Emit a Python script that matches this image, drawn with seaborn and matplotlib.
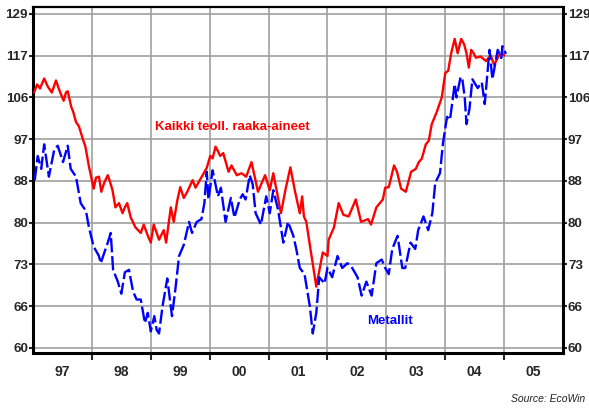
import numpy as np
import pandas as pd
import matplotlib
matplotlib.use("Agg")
import matplotlib.pyplot as plt
from matplotlib.ticker import FixedLocator, NullLocator, NullFormatter
import seaborn as sns

# Kaikki teoll. raaka-aineet (decimal year, index value)
red_years = [
    1997.02, 1997.07, 1997.12, 1997.19, 1997.25, 1997.32, 1997.39, 1997.45, 1997.52, 1997.56,
    1997.59, 1997.65, 1997.68, 1997.73, 1997.78, 1997.85, 1997.89, 1997.95, 1998.00, 1998.03,
    1998.07, 1998.12, 1998.16, 1998.21, 1998.27, 1998.31, 1998.35, 1998.40, 1998.46, 1998.52,
    1998.56, 1998.60, 1998.66, 1998.74, 1998.83, 1998.88, 1998.95, 1999.00, 1999.05, 1999.10,
    1999.14, 1999.22, 1999.26, 1999.34, 1999.39, 1999.45, 1999.50, 1999.56, 1999.62, 1999.71,
    1999.76, 1999.88, 1999.95, 2000.01, 2000.05, 2000.10, 2000.18, 2000.23, 2000.32, 2000.37,
    2000.46, 2000.54, 2000.62, 2000.71, 2000.82, 2000.94, 2001.02, 2001.08, 2001.21, 2001.29,
    2001.37, 2001.45, 2001.53, 2001.57, 2001.60, 2001.64, 2001.72, 2001.81, 2001.84, 2001.92,
    2002.00, 2002.02, 2002.11, 2002.19, 2002.27, 2002.36, 2002.48, 2002.57, 2002.69, 2002.74,
    2002.83, 2002.94, 2002.98, 2003.04, 2003.13, 2003.18, 2003.25, 2003.33, 2003.42, 2003.50,
    2003.55, 2003.60, 2003.67, 2003.72, 2003.77, 2003.86, 2003.94, 2004.00, 2004.05, 2004.10,
    2004.16, 2004.21, 2004.27, 2004.32, 2004.36, 2004.40, 2004.44, 2004.48, 2004.52, 2004.60,
    2004.69, 2004.77, 2004.83, 2004.91, 2004.98, 2005.00,
]
red_values = [
    107.5, 109.5, 108.5, 111.0, 109.0, 107.5, 110.5, 108.0, 105.5, 107.5,
    107.8, 104.0, 103.0, 100.5, 99.5, 96.5, 95.0, 90.8, 88.0, 86.3,
    88.5, 88.7, 85.7, 87.5, 89.0, 87.6, 86.0, 82.7, 83.5, 81.6,
    82.7, 83.5, 80.8, 79.0, 78.0, 79.5, 77.5, 76.3, 79.5, 78.0,
    76.8, 78.5, 76.3, 82.7, 80.0, 84.0, 86.6, 84.5, 85.7, 88.0,
    86.5, 89.0, 90.5, 93.0, 92.5, 95.0, 93.0, 93.6, 89.7, 91.0,
    89.0, 89.4, 88.7, 91.7, 85.7, 89.0, 86.0, 89.4, 81.6, 86.3,
    90.6, 85.7, 81.6, 84.8, 81.0, 80.0, 74.6, 69.0, 70.5, 74.6,
    74.0, 76.8, 79.0, 83.5, 81.3, 81.0, 84.2, 80.0, 80.5, 79.5,
    82.7, 84.2, 86.5, 86.6, 91.0, 89.7, 86.3, 85.7, 89.7, 90.3,
    91.7, 92.4, 95.5, 96.3, 100.0, 103.0, 106.3, 112.4, 113.0, 117.6,
    121.5, 117.6, 121.5, 120.0, 117.6, 113.8, 118.5, 117.6, 116.4, 116.7,
    115.5, 117.0, 114.5, 117.0, 117.4, 117.0,
]

# Metallit (decimal year, index value)
blue_years = [
    1997.03, 1997.08, 1997.14, 1997.19, 1997.27, 1997.36, 1997.42, 1997.51, 1997.59, 1997.64,
    1997.73, 1997.81, 1997.90, 1997.95, 1998.03, 1998.12, 1998.15, 1998.27, 1998.32, 1998.36,
    1998.44, 1998.50, 1998.56, 1998.63, 1998.70, 1998.76, 1998.83, 1998.90, 1998.95, 1999.00,
    1999.06, 1999.10, 1999.14, 1999.20, 1999.28, 1999.36, 1999.42, 1999.48, 1999.56, 1999.65,
    1999.70, 1999.78, 1999.86, 1999.91, 1999.95, 1999.98, 2000.05, 2000.14, 2000.19, 2000.27,
    2000.36, 2000.42, 2000.51, 2000.56, 2000.61, 2000.68, 2000.73, 2000.78, 2000.87, 2000.96,
    2001.02, 2001.08, 2001.16, 2001.25, 2001.33, 2001.42, 2001.47, 2001.53, 2001.61, 2001.70,
    2001.75, 2001.81, 2001.86, 2001.95, 2002.00, 2002.08, 2002.17, 2002.25, 2002.34, 2002.42,
    2002.51, 2002.58, 2002.66, 2002.75, 2002.83, 2002.92, 2002.98, 2003.04, 2003.10, 2003.19,
    2003.27, 2003.32, 2003.41, 2003.49, 2003.54, 2003.63, 2003.71, 2003.78, 2003.83, 2003.91,
    2003.96, 2004.03, 2004.08, 2004.13, 2004.16, 2004.19, 2004.26, 2004.29, 2004.33, 2004.36,
    2004.41, 2004.46, 2004.55, 2004.62, 2004.67, 2004.75, 2004.80, 2004.89, 2004.95, 2004.97,
    2005.03,
]
blue_values = [
    88.0, 93.0, 90.3, 95.5, 88.7, 94.3, 95.2, 91.7, 95.2, 90.3,
    88.7, 83.5, 82.0, 79.0, 75.6, 74.0, 72.8, 76.3, 78.0, 71.7,
    69.8, 67.9, 71.3, 71.7, 68.2, 67.0, 67.0, 63.5, 65.0, 62.3,
    64.5, 62.5, 62.0, 66.0, 70.3, 64.5, 68.8, 74.0, 75.9, 80.0,
    78.0, 80.0, 80.5, 83.5, 89.7, 84.2, 90.0, 84.8, 86.5, 80.0,
    84.5, 80.8, 84.2, 85.2, 84.2, 89.0, 87.2, 81.6, 79.5, 84.8,
    81.6, 86.0, 82.3, 76.3, 80.0, 77.5, 75.2, 72.0, 71.0, 66.0,
    62.0, 65.0, 70.5, 69.5, 72.0, 70.5, 74.0, 72.0, 72.8, 72.0,
    70.5, 67.6, 69.8, 67.6, 72.8, 73.4, 72.0, 71.0, 75.2, 77.5,
    72.0, 72.0, 76.3, 75.2, 78.5, 81.0, 78.5, 81.6, 87.5, 89.4,
    95.7, 101.7, 101.0, 106.3, 109.6, 106.3, 111.4, 110.8, 106.3, 100.0,
    103.5, 110.8, 108.6, 110.0, 104.7, 118.5, 110.8, 118.5, 116.3, 119.5,
    117.4,
]

tick_labels = ["60", "66", "73", "80", "88", "97", "106", "117", "129"]
year_labels = ["97", "98", "99", "00", "01", "02", "03", "04", "05"]

red_df = pd.DataFrame({"year": red_years, "value": red_values})
blue_df = pd.DataFrame({"year": blue_years, "value": blue_values})

sns.set_style("white")
plt.rcParams["font.family"] = ["Liberation Sans", "DejaVu Sans"]

fig = plt.figure(figsize=(5.89, 4.09), dpi=100)
ax = fig.add_axes([0.056, 0.137, 0.900, 0.846])

sns.lineplot(data=red_df, x="year", y="value", color="#ff0000", linewidth=1.7,
             sort=False, ax=ax, zorder=3)
sns.lineplot(data=blue_df, x="year", y="value", color="#0000ff", linewidth=1.7,
             linestyle=(0, (6, 1.6)), sort=False, ax=ax, zorder=3)

ax.set_yscale("log")
ax.set_xlim(1997.0, 2006.0)
ax.set_ylim(59.3, 130.7)

ytick_pos = [60 * 1.1 ** k for k in range(len(tick_labels))]
ax.yaxis.set_major_locator(FixedLocator(ytick_pos))
ax.yaxis.set_minor_locator(NullLocator())
ax.yaxis.set_minor_formatter(NullFormatter())
ax.set_yticklabels(tick_labels)

ax.set_xticks(np.arange(1998, 2006))
ax.set_xticklabels([])
ax.set_xticks(np.arange(1997.5, 2006, 1.0), minor=True)
ax.set_xticklabels(year_labels, minor=True)

ax.grid(True, which="major", color="#a0a0a0", linewidth=1.2, zorder=0)
ax.tick_params(axis="y", which="major", left=True, right=True, labelleft=True,
               labelright=True, direction="out", length=3, width=1.5,
               labelsize=9.6, pad=0.5)
ax.tick_params(axis="x", which="major", bottom=True, direction="out",
               length=5, width=1.5)
ax.tick_params(axis="x", which="minor", bottom=False, length=0,
               labelsize=10, pad=9)
for lab in ax.get_yticklabels() + ax.get_xticklabels(minor=True):
    lab.set_fontweight("bold")

for side in ["left", "bottom", "right"]:
    ax.spines[side].set_linewidth(2.2)
    ax.spines[side].set_color("black")
ax.spines["top"].set_linewidth(1.6)
ax.spines["top"].set_color("black")

ax.set_xlabel("")
ax.set_ylabel("")

ax.text(1999.08, 99.4, "Kaikki teoll. raaka-aineet", color="#ff0000",
        fontsize=9.5, fontweight="bold", va="center", ha="left")
ax.text(2002.68, 63.8, "Metallit", color="#0000ff",
        fontsize=9.5, fontweight="bold", va="center", ha="left")

fig.text(0.993, 0.012, "Source: EcoWin", ha="right", va="bottom",
         fontsize=7.5, style="italic", color="#222222")

fig.savefig("out.png", dpi=100)
